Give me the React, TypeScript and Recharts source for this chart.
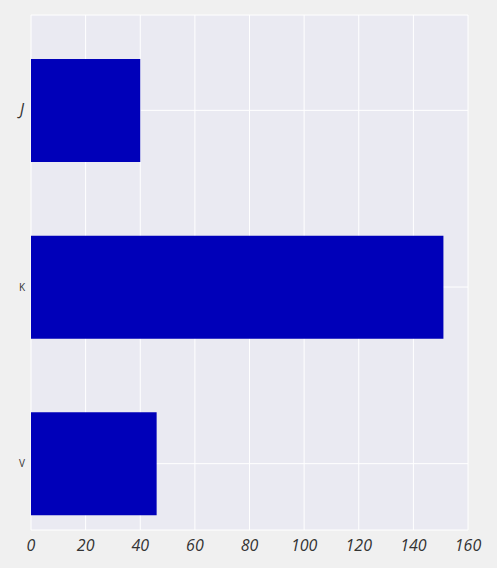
import React from 'react';
import { BarChart, Bar, XAxis, YAxis, CartesianGrid } from 'recharts';

const categories = ['J', 'K', 'V'];
const values = [40, 151, 46];
const xTicks = [0, 20, 40, 60, 80, 100, 120, 140, 160];

const data = categories.map((name, i) => ({ name, value: values[i] }));

const CategoryTick = (props: any) => {
  const { x, y, payload } = props;
  const big = payload.value === 'J';
  return (
    <text
      x={big ? x + 1 : x + 2}
      y={y}
      dy={big ? 5 : 3.5}
      textAnchor="end"
      fill="#333"
      fontFamily="Open Sans"
      fontStyle={big ? 'italic' : 'normal'}
      fontSize={big ? 16 : 10}
    >
      {payload.value}
    </text>
  );
};

const App = () => {
  return (
    <div style={{ position: 'absolute', left: 0, top: 0, width: 497, height: 568, background: '#f0f0f0' }}>
      <BarChart
        width={497}
        height={568}
        data={data}
        layout="vertical"
        barSize={103}
        margin={{ top: 15, right: 29, left: 0, bottom: 0 }}
      >
        <CartesianGrid fill="#eaeaf2" stroke="#ffffff" strokeWidth={1} />
        <XAxis
          type="number"
          domain={[0, 160]}
          ticks={xTicks}
          axisLine={false}
          tickLine={false}
          height={38}
          tickMargin={4}
          tick={{ fontSize: 16, fill: '#333', fontFamily: 'Open Sans', fontStyle: 'italic' }}
        />
        <YAxis
          type="category"
          dataKey="name"
          width={31}
          padding={{ top: 7, bottom: -22 }}
          axisLine={false}
          tickLine={false}
          tick={<CategoryTick />}
        />
        <Bar dataKey="value" fill="#0000b9" isAnimationActive={false} />
      </BarChart>
    </div>
  );
};

export default App;
